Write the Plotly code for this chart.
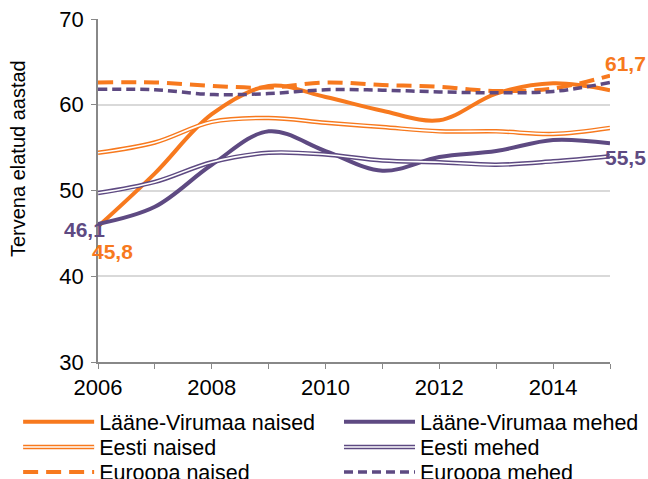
import plotly.graph_objects as go

years = list(range(2006, 2016))
lv_naised = [45.8, 52.0, 58.9, 62.2, 60.9, 59.3, 58.2, 61.3, 62.5, 61.7]
lv_mehed = [46.1, 48.1, 53.0, 56.9, 54.6, 52.3, 53.9, 54.6, 55.9, 55.5]
eesti_naised = [54.4, 55.6, 58.0, 58.45, 57.9, 57.4, 56.9, 56.9, 56.6, 57.3]
eesti_mehed = [49.7, 51.0, 53.3, 54.4, 54.2, 53.5, 53.3, 53.0, 53.4, 54.0]
euroopa_naised = [62.6, 62.6, 62.2, 62.0, 62.6, 62.3, 62.1, 61.6, 61.9, 63.4]
euroopa_mehed = [61.8, 61.75, 61.2, 61.3, 61.75, 61.7, 61.5, 61.4, 61.55, 62.6]

xtick_vals = years
xtick_text = ["2006", "", "2008", "", "2010", "", "2012", "", "2014", ""]
ytick_vals = [30, 40, 50, 60, 70]
y_title = "Tervena elatud aastad"

ORANGE = "#F7791E"
PURPLE = "#5E4A82"
FONT = "Liberation Sans, Arial, sans-serif"

fig = go.Figure()

def add(name, y, color, width, legend, dash="solid", inner_legend=None):
    fig.add_trace(go.Scatter(
        x=years, y=y, name=name, mode="lines", legend=legend,
        line=dict(color=color, width=width, dash=dash, shape="spline", smoothing=1.0),
        legendgroup=name,
    ))
    if inner_legend:
        # white core line -> double-line look (also overlaid on the legend symbol)
        fig.add_trace(go.Scatter(
            x=years, y=y, name=" ", mode="lines", showlegend=True, legend=inner_legend,
            line=dict(color="white", width=1.6, shape="spline", smoothing=1.0),
            legendgroup=name, hoverinfo="skip",
        ))

add("Lääne-Virumaa naised", lv_naised, ORANGE, 4, "legend")
add("Lääne-Virumaa mehed", lv_mehed, PURPLE, 4, "legend2")
add("Eesti naised", eesti_naised, ORANGE, 4.5, "legend3", inner_legend="legend7")
add("Eesti mehed", eesti_mehed, PURPLE, 4.5, "legend4", inner_legend="legend8")
add("Euroopa naised", euroopa_naised, ORANGE, 4, "legend5", dash="15px,8px")
add("Euroopa mehed", euroopa_mehed, PURPLE, 3.5, "legend6", dash="9px,5px")

labels = [
    (years[0], lv_mehed[0], "46,1", PURPLE, -14, -6),
    (years[0], lv_naised[0], "45,8", ORANGE, 14, -25),
    (years[-1], lv_naised[-1], "61,7", ORANGE, 15, 27),
    (years[-1], lv_mehed[-1], "55,5", PURPLE, 15, -14),
]
for x, y, t, c, dx, dy in labels:
    fig.add_annotation(x=x, y=y, text="<b>%s</b>" % t, showarrow=False,
                       xshift=dx, yshift=dy,
                       font=dict(family=FONT, size=21, color=c))

fig.add_annotation(xref="paper", yref="paper", x=-0.156, y=0.592, text=y_title,
                   textangle=-90, showarrow=False, xanchor="center", yanchor="middle",
                   font=dict(family=FONT, size=20, color="#000000"))

COLX = [-0.156, 0.4707]
ROWY = [-0.174, -0.2478, -0.3207]

def legend_pos(col, row):
    return dict(
        orientation="v", x=COLX[col], y=ROWY[row], xanchor="left", yanchor="middle",
        itemwidth=71, tracegroupgap=0,
        font=dict(family=FONT, size=21.5, color="#000000"),
        bgcolor="rgba(0,0,0,0)",
    )

fig.update_layout(
    width=648, height=479,
    margin=dict(l=98, r=38, t=19, b=117, autoexpand=False),
    paper_bgcolor="white", plot_bgcolor="white",
    font=dict(family=FONT, size=22, color="#000000"),
    showlegend=True,
    legend=legend_pos(0, 0),
    legend2=legend_pos(1, 0),
    legend3=legend_pos(0, 1),
    legend4=legend_pos(1, 1),
    legend5=legend_pos(0, 2),
    legend6=legend_pos(1, 2),
    legend7=legend_pos(0, 1),
    legend8=legend_pos(1, 1),
    xaxis=dict(
        range=[2006, 2015], tickvals=xtick_vals, ticktext=xtick_text,
        showgrid=False, showline=True, linecolor="#888888", linewidth=1.5,
        ticks="outside", ticklen=5, tickcolor="#888888",
        tickfont=dict(family=FONT, size=22, color="#000000"),
        zeroline=False,
    ),
    yaxis=dict(
        range=[30, 70], tickvals=ytick_vals,
        showgrid=True, gridcolor="#D9D9D9", gridwidth=1.5,
        showline=True, linecolor="#888888", linewidth=1.5,
        ticks="outside", ticklen=5, tickcolor="#888888",
        ticklabelstandoff=3,
        tickfont=dict(family=FONT, size=22, color="#000000"),
        zeroline=False,
    ),
)

fig.write_html("out.html", config={"displayModeBar": False},
               post_script="document.body.style.margin='0';document.body.style.overflow='hidden';")
